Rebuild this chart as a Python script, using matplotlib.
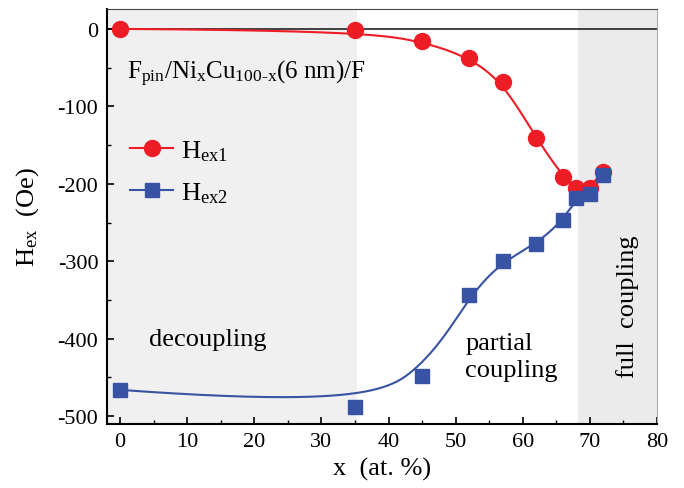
import numpy as np
import matplotlib
matplotlib.use("Agg")
import matplotlib.pyplot as plt

plt.rcParams['font.family'] = ['Liberation Serif', 'DejaVu Serif']
plt.rcParams['mathtext.fontset'] = 'custom'
plt.rcParams['mathtext.rm'] = 'Liberation Serif'
plt.rcParams['mathtext.it'] = 'Liberation Serif:italic'
plt.rcParams['axes.unicode_minus'] = False

# Data
x_ex1 = [0, 35, 45, 52, 57, 62, 66, 68, 70, 72]
h_ex1 = [0, -2, -15, -37, -68, -141, -191, -205, -205, -185]
x_ex2 = [0, 35, 45, 52, 57, 62, 66, 68, 70, 72]
h_ex2 = [-466, -488, -448, -344, -300, -278, -247, -218, -213, -189]

decoupling_span = (-2, 35.3)
full_span = (68.3, 80)


def bspline(x, y, num=800, k=3):
    """Clamped uniform cubic B-spline using the data points as control points."""
    P = np.column_stack([x, y]).astype(float)
    n = len(P)
    inner = np.arange(1, n - k)
    knots = np.concatenate([np.zeros(k + 1), inner, np.full(k + 1, n - k)]).astype(float)
    ts = np.linspace(0, n - k, num)
    ts[-1] -= 1e-9

    def basis(i, p, t):
        if p == 0:
            return np.where((knots[i] <= t) & (t < knots[i + 1]), 1.0, 0.0)
        out = np.zeros_like(t)
        d1 = knots[i + p] - knots[i]
        d2 = knots[i + p + 1] - knots[i + 1]
        if d1 > 0:
            out += (t - knots[i]) / d1 * basis(i, p - 1, t)
        if d2 > 0:
            out += (knots[i + p + 1] - t) / d2 * basis(i + 1, p - 1, t)
        return out

    B = np.column_stack([basis(i, k, ts) for i in range(n)])
    C = B @ P
    return C[:, 0], C[:, 1]


fig = plt.figure(figsize=(6.84, 4.89), dpi=100)
ax = fig.add_axes([0.156, 0.131, 0.8045, 0.849])

ax.axvspan(*decoupling_span, color='#f0f0f0', zorder=0, lw=0)
ax.axvspan(*full_span, color='#ebebeb', zorder=0, lw=0)
ax.axhline(0, color='#222222', lw=1.2, zorder=1)

red = '#ee1c25'
blue = '#3953a4'
rx, ry = bspline(x_ex1, h_ex1)
bx, by = bspline(x_ex2, h_ex2)
ax.plot(rx, ry, color=red, lw=1.5, zorder=2)
ax.plot(bx, by, color=blue, lw=1.5, zorder=2)
ax.plot(x_ex1, h_ex1, 'o', color=red, ms=11.5, zorder=3)
ax.plot(x_ex2, h_ex2, 's', color=blue, ms=10, zorder=4)

# legend handles
l1, = ax.plot([], [], '-o', color=red, ms=11.5, lw=1.5)
l2, = ax.plot([], [], '-s', color=blue, ms=10, lw=1.5)
ax.legend([l1, l2], [r'H$_{\mathrm{ex1}}$', r'H$_{\mathrm{ex2}}$'],
          loc='upper left', bbox_to_anchor=(0.0, 0.745), frameon=False,
          fontsize=19, handlelength=1.6, labelspacing=0.65, handletextpad=0.3)

ax.set_xlim(-2, 80)
ax.set_ylim(-510, 26)
ax.set_xticks(np.arange(0, 81, 10))
ax.set_xticks(np.arange(0, 81, 5), minor=True)
ax.set_yticks(np.arange(-500, 1, 100))
ax.set_yticks(np.arange(-500, 1, 50), minor=True)
ax.tick_params(which='both', direction='in', labelsize=16, top=False, right=False)
ax.tick_params(which='major', length=5, width=1.2, pad=6)
ax.tick_params(which='minor', length=3, width=1.0)
for s in ['left', 'bottom']:
    ax.spines[s].set_linewidth(1.5)
ax.spines['top'].set_color('#444444')
ax.spines['right'].set_color('#aaaaaa')

ax.set_xlabel('x  (at. %)', fontsize=19, labelpad=4)
ax.set_ylabel(r'H$_{\mathrm{ex}}$  (Oe)', fontsize=19, labelpad=12)

ax.text(1.0, -57, r'F$_{\mathrm{pin}}$/Ni$_{\mathrm{x}}$Cu$_{\mathrm{100\text{-}x}}$(6 nm)/F',
        fontsize=18, va='center', ha='left')
ax.text(4.3, -400, 'decoupling', fontsize=19, va='center', ha='left')
ax.text(51.4, -423, 'partial\ncoupling', fontsize=19, va='center', ha='left', linespacing=1.3)
ax.text(75.6, -357, 'full  coupling', fontsize=19, va='center', ha='center', rotation=90)

fig.savefig('out.png', dpi=100)
